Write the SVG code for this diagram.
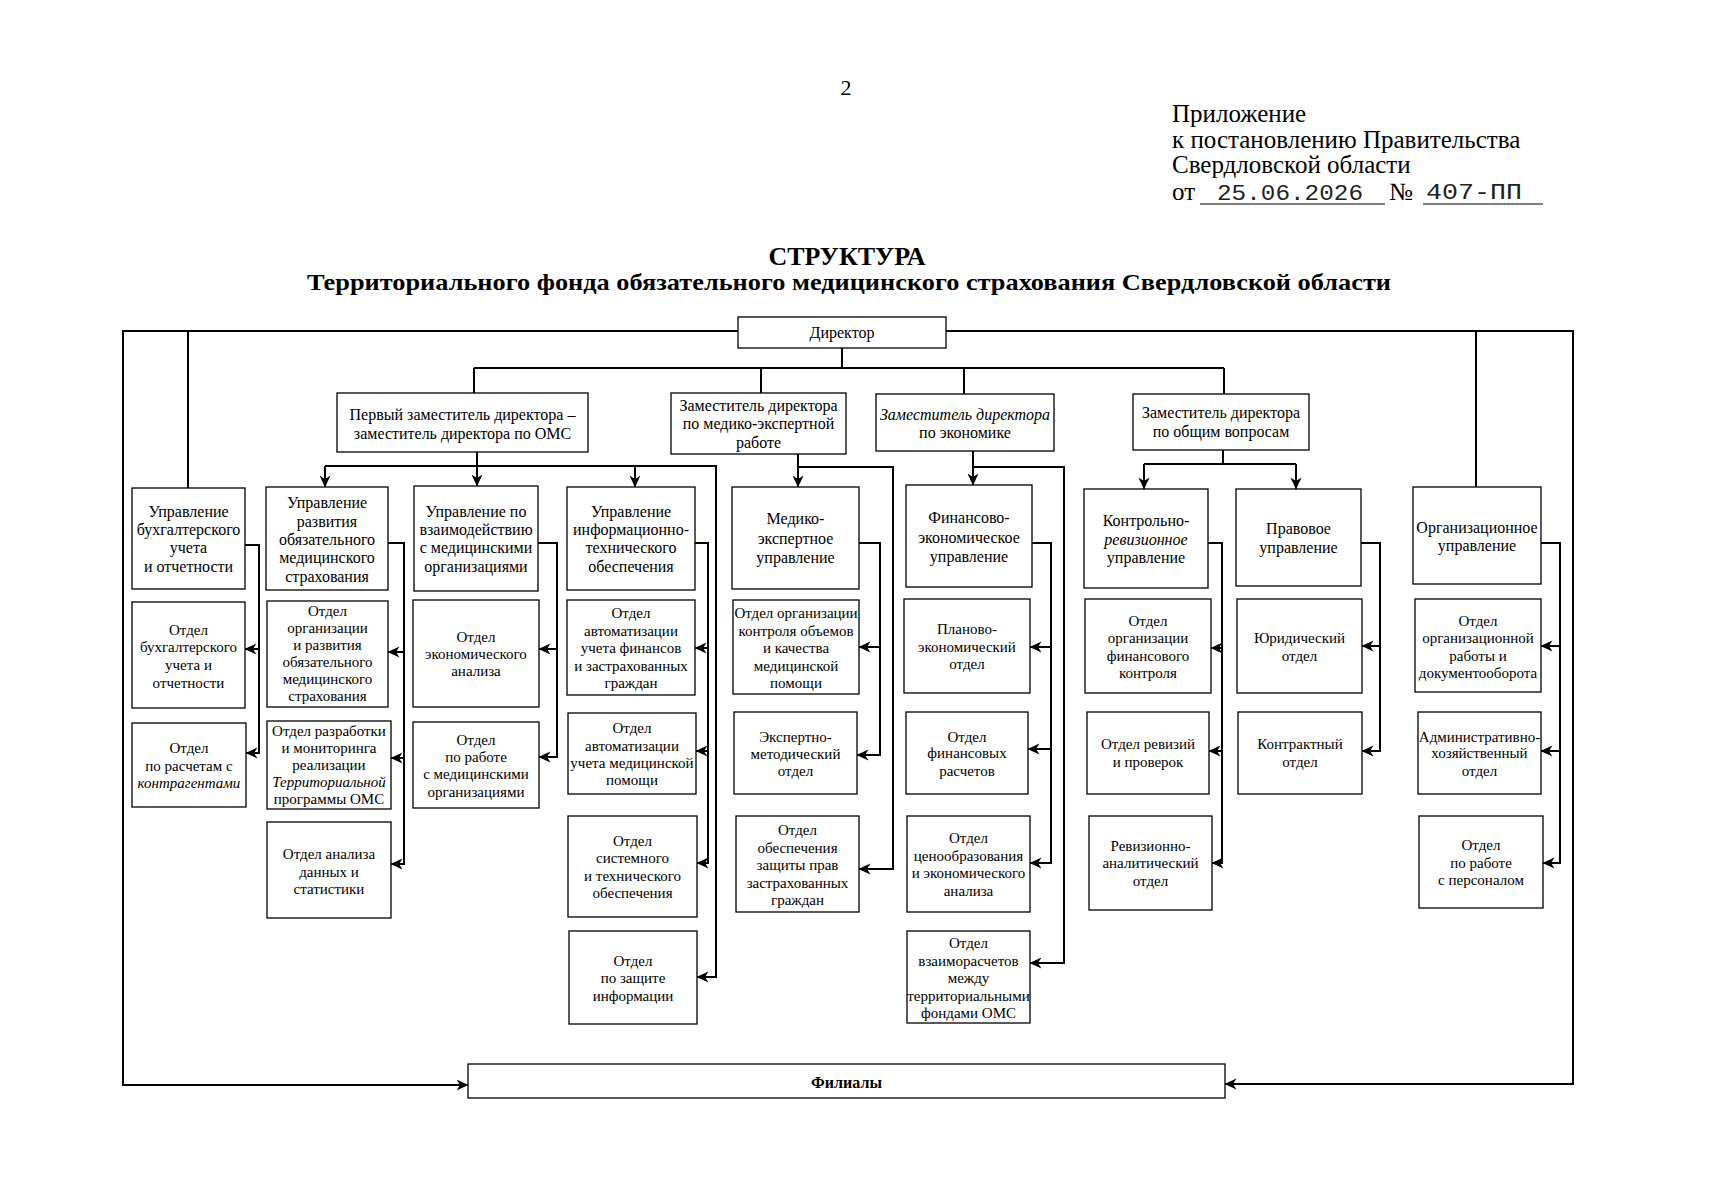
<svg xmlns="http://www.w3.org/2000/svg" width="1711" height="1200" viewBox="0 0 1711 1200">
<style>
.bg{fill:#fff}
.b{fill:#fff;stroke:#000;stroke-width:1.3}
.c{fill:none;stroke:#000;stroke-width:2}
.a{fill:none;stroke:#000;stroke-width:2;marker-end:url(#ah)}
text{font-family:"Liberation Serif","Times New Roman",serif;fill:#000}
.t16{font-size:16px;text-anchor:middle}
.t15{font-size:15px;text-anchor:middle}
.i{font-style:italic}
.hd{font-size:25px}
.mono{font-family:"Liberation Mono","Courier New",monospace;font-size:22px;fill:#222}
.ttl{font-weight:bold;text-anchor:middle}
</style>
<defs>
<marker id="ah" markerUnits="userSpaceOnUse" markerWidth="12" markerHeight="12" viewBox="0 0 12 12" refX="11.5" refY="6" orient="auto">
<path d="M0,0.5 L12,6 L0,11.5 L3.5,6 z" fill="#000"/>
</marker>
</defs>
<rect class="bg" x="0" y="0" width="1711" height="1200"/>

<g id="header">
<text x="846" y="95" style="font-size:22px;text-anchor:middle">2</text>
<text class="hd" x="1172" y="122">Приложение</text>
<text class="hd" x="1172" y="148">к постановлению Правительства</text>
<text class="hd" x="1172" y="173">Свердловской области</text>
<text class="hd" x="1172" y="200">от</text>
<line x1="1200" y1="204" x2="1385" y2="204" stroke="#000" stroke-width="1.2"/>
<text class="mono" x="1217" y="200" textLength="146" lengthAdjust="spacingAndGlyphs">25.06.2026</text>
<text class="hd" x="1389" y="200">№</text>
<line x1="1423" y1="204" x2="1543" y2="204" stroke="#000" stroke-width="1.2"/>
<text class="mono" x="1426" y="199" textLength="96" lengthAdjust="spacingAndGlyphs">407-ПП</text>
<text class="ttl" x="847" y="265" style="font-size:26px">СТРУКТУРА</text>
<text class="ttl" x="849" y="290" style="font-size:24px" textLength="1084" lengthAdjust="spacingAndGlyphs">Территориального фонда обязательного медицинского страхования Свердловской области</text>
</g>

<g id="connectors">
<path class="a" d="M738,331 H123 V1085 H468"/>
<path class="a" d="M946,331 H1573 V1084 H1225"/>
<path class="c" d="M188,331 V488"/>
<path class="c" d="M1476,331 V487"/>
<path class="c" d="M842,348 V368 M474,368 H1224 M474,368 V393 M761,368 V393 M964,368 V394 M1224,368 V394"/>
<path class="c" d="M477,452 V466"/>
<path class="a" d="M325,466 H716 V977 H697"/>
<path class="a" d="M325,466 V487"/>
<path class="a" d="M477,466 V486"/>
<path class="a" d="M635,466 V487"/>
<path class="a" d="M245,545 H259 V753 H246"/>
<path class="a" d="M259,649 H245"/>
<path class="a" d="M388,543 H404 V864 H391"/>
<path class="a" d="M404,652 H388"/>
<path class="a" d="M404,758 H391"/>
<path class="a" d="M538,543 H557 V757 H539"/>
<path class="a" d="M557,649 H539"/>
<path class="a" d="M695,543 H708 V863 H697"/>
<path class="a" d="M708,648 H695"/>
<path class="a" d="M708,751 H696"/>
<path class="a" d="M798,454 V467 H893 V869 H859"/>
<path class="a" d="M798,467 V487"/>
<path class="a" d="M859,543 H880 V755 H857"/>
<path class="a" d="M880,647 H859"/>
<path class="a" d="M973,451 V467 H1064 V963 H1030"/>
<path class="a" d="M973,467 V485"/>
<path class="a" d="M1032,543 H1051 V863 H1030"/>
<path class="a" d="M1051,647 H1030"/>
<path class="a" d="M1051,749 H1028"/>
<path class="c" d="M1223,450 V464 M1144,464 H1296"/>
<path class="a" d="M1144,464 V489"/>
<path class="a" d="M1296,464 V489"/>
<path class="a" d="M1208,543 H1222 V863 H1212"/>
<path class="a" d="M1222,648 H1211"/>
<path class="a" d="M1222,751 H1209"/>
<path class="a" d="M1361,543 H1380 V751 H1362"/>
<path class="a" d="M1380,646 H1362"/>
<path class="a" d="M1541,543 H1560 V863 H1543"/>
<path class="a" d="M1560,646 H1541"/>
<path class="a" d="M1560,751 H1541"/>
</g>

<g id="director"><rect class="b" x="738" y="317" width="208" height="31"/>
<text class="t16" x="842" y="338">Директор</text></g>

<g id="dep1"><rect class="b" x="337" y="393" width="251" height="59"/>
<text class="t16"><tspan x="462.5" y="420">Первый заместитель директора –</tspan><tspan x="462.5" y="439">заместитель директора по ОМС</tspan></text></g>

<g id="dep-med"><rect class="b" x="671" y="393" width="175" height="61"/>
<text class="t16"><tspan x="758.5" y="411">Заместитель директора</tspan><tspan x="758.5" y="429">по медико-экспертной</tspan><tspan x="758.5" y="448">работе</tspan></text></g>

<g id="dep-econ"><rect class="b" x="876" y="394" width="178" height="57"/>
<text class="t16"><tspan class="i" x="965" y="420">Заместитель директора</tspan><tspan x="965" y="438">по экономике</tspan></text></g>

<g id="dep-gen"><rect class="b" x="1133" y="394" width="176" height="56"/>
<text class="t16"><tspan x="1221" y="418">Заместитель директора</tspan><tspan x="1221" y="437">по общим вопросам</tspan></text></g>

<g id="buh"><rect class="b" x="132" y="488" width="113" height="101"/>
<text class="t16"><tspan x="188.5" y="517">Управление</tspan><tspan x="188.5" y="535">бухгалтерского</tspan><tspan x="188.5" y="553">учета</tspan><tspan x="188.5" y="572">и отчетности</tspan></text></g>
<g id="buh-1"><rect class="b" x="132" y="602" width="113" height="106"/>
<text class="t15"><tspan x="188.5" y="635">Отдел</tspan><tspan x="188.5" y="652">бухгалтерского</tspan><tspan x="188.5" y="670">учета и</tspan><tspan x="188.5" y="688">отчетности</tspan></text></g>
<g id="buh-2"><rect class="b" x="132" y="723" width="114" height="84"/>
<text class="t15"><tspan x="189" y="753">Отдел</tspan><tspan x="189" y="771">по расчетам с</tspan><tspan class="i" x="189" y="788">контрагентами</tspan></text></g>

<g id="razv"><rect class="b" x="266" y="487" width="122" height="103"/>
<text class="t16"><tspan x="327" y="508">Управление</tspan><tspan x="327" y="527">развития</tspan><tspan x="327" y="545">обязательного</tspan><tspan x="327" y="563">медицинского</tspan><tspan x="327" y="582">страхования</tspan></text></g>
<g id="razv-1"><rect class="b" x="267" y="601" width="121" height="106"/>
<text class="t15"><tspan x="327.5" y="616">Отдел</tspan><tspan x="327.5" y="633">организации</tspan><tspan x="327.5" y="650">и развития</tspan><tspan x="327.5" y="667">обязательного</tspan><tspan x="327.5" y="684">медицинского</tspan><tspan x="327.5" y="701">страхования</tspan></text></g>
<g id="razv-2"><rect class="b" x="267" y="721" width="124" height="88"/>
<text class="t15"><tspan x="329" y="736">Отдел разработки</tspan><tspan x="329" y="753">и мониторинга</tspan><tspan x="329" y="770">реализации</tspan><tspan class="i" x="329" y="787">Территориальной</tspan><tspan x="329" y="804">программы ОМС</tspan></text></g>
<g id="razv-3"><rect class="b" x="267" y="822" width="124" height="96"/>
<text class="t15"><tspan x="329" y="859">Отдел анализа</tspan><tspan x="329" y="877">данных и</tspan><tspan x="329" y="894">статистики</tspan></text></g>

<g id="vzaim"><rect class="b" x="414" y="486" width="124" height="105"/>
<text class="t16"><tspan x="476" y="517">Управление по</tspan><tspan x="476" y="535">взаимодействию</tspan><tspan x="476" y="553">с медицинскими</tspan><tspan x="476" y="572">организациями</tspan></text></g>
<g id="vzaim-1"><rect class="b" x="413" y="600" width="126" height="107"/>
<text class="t15"><tspan x="476" y="642">Отдел</tspan><tspan x="476" y="659">экономического</tspan><tspan x="476" y="676">анализа</tspan></text></g>
<g id="vzaim-2"><rect class="b" x="413" y="722" width="126" height="86"/>
<text class="t15"><tspan x="476" y="745">Отдел</tspan><tspan x="476" y="762">по работе</tspan><tspan x="476" y="779">с медицинскими</tspan><tspan x="476" y="797">организациями</tspan></text></g>

<g id="it"><rect class="b" x="567" y="487" width="128" height="103"/>
<text class="t16"><tspan x="631" y="517">Управление</tspan><tspan x="631" y="535">информационно-</tspan><tspan x="631" y="553">технического</tspan><tspan x="631" y="572">обеспечения</tspan></text></g>
<g id="it-1"><rect class="b" x="567" y="600" width="128" height="95"/>
<text class="t15"><tspan x="631" y="618">Отдел</tspan><tspan x="631" y="636">автоматизации</tspan><tspan x="631" y="653">учета финансов</tspan><tspan x="631" y="671">и застрахованных</tspan><tspan x="631" y="688">граждан</tspan></text></g>
<g id="it-2"><rect class="b" x="568" y="713" width="128" height="81"/>
<text class="t15"><tspan x="632" y="733">Отдел</tspan><tspan x="632" y="751">автоматизации</tspan><tspan x="632" y="768">учета медицинской</tspan><tspan x="632" y="785">помощи</tspan></text></g>
<g id="it-3"><rect class="b" x="568" y="816" width="129" height="101"/>
<text class="t15"><tspan x="632.5" y="846">Отдел</tspan><tspan x="632.5" y="863">системного</tspan><tspan x="632.5" y="881">и технического</tspan><tspan x="632.5" y="898">обеспечения</tspan></text></g>
<g id="it-4"><rect class="b" x="569" y="931" width="128" height="93"/>
<text class="t15"><tspan x="633" y="966">Отдел</tspan><tspan x="633" y="983">по защите</tspan><tspan x="633" y="1001">информации</tspan></text></g>

<g id="mex"><rect class="b" x="732" y="487" width="127" height="102"/>
<text class="t16"><tspan x="795.5" y="524">Медико-</tspan><tspan x="795.5" y="544">экспертное</tspan><tspan x="795.5" y="563">управление</tspan></text></g>
<g id="mex-1"><rect class="b" x="733" y="600" width="126" height="94"/>
<text class="t15"><tspan x="796" y="618">Отдел организации</tspan><tspan x="796" y="636">контроля объемов</tspan><tspan x="796" y="653">и качества</tspan><tspan x="796" y="671">медицинской</tspan><tspan x="796" y="688">помощи</tspan></text></g>
<g id="mex-2"><rect class="b" x="734" y="712" width="123" height="82"/>
<text class="t15"><tspan x="795.5" y="742">Экспертно-</tspan><tspan x="795.5" y="759">методический</tspan><tspan x="795.5" y="776">отдел</tspan></text></g>
<g id="mex-3"><rect class="b" x="736" y="816" width="123" height="96"/>
<text class="t15"><tspan x="797.5" y="835">Отдел</tspan><tspan x="797.5" y="853">обеспечения</tspan><tspan x="797.5" y="870">защиты прав</tspan><tspan x="797.5" y="888">застрахованных</tspan><tspan x="797.5" y="905">граждан</tspan></text></g>

<g id="feu"><rect class="b" x="906" y="485" width="126" height="102"/>
<text class="t16"><tspan x="969" y="523">Финансово-</tspan><tspan x="969" y="543">экономическое</tspan><tspan x="969" y="562">управление</tspan></text></g>
<g id="feu-1"><rect class="b" x="904" y="599" width="126" height="94"/>
<text class="t15"><tspan x="967" y="634">Планово-</tspan><tspan x="967" y="652">экономический</tspan><tspan x="967" y="669">отдел</tspan></text></g>
<g id="feu-2"><rect class="b" x="906" y="712" width="122" height="82"/>
<text class="t15"><tspan x="967" y="742">Отдел</tspan><tspan x="967" y="758">финансовых</tspan><tspan x="967" y="776">расчетов</tspan></text></g>
<g id="feu-3"><rect class="b" x="907" y="816" width="123" height="96"/>
<text class="t15"><tspan x="968.5" y="843">Отдел</tspan><tspan x="968.5" y="861">ценообразования</tspan><tspan x="968.5" y="878">и экономического</tspan><tspan x="968.5" y="896">анализа</tspan></text></g>
<g id="feu-4"><rect class="b" x="907" y="931" width="123" height="92"/>
<text class="t15"><tspan x="968.5" y="948">Отдел</tspan><tspan x="968.5" y="966">взаиморасчетов</tspan><tspan x="968.5" y="983">между</tspan><tspan x="968.5" y="1001">территориальными</tspan><tspan x="968.5" y="1018">фондами ОМС</tspan></text></g>

<g id="kru"><rect class="b" x="1084" y="489" width="124" height="99"/>
<text class="t16"><tspan x="1146" y="526">Контрольно-</tspan><tspan class="i" x="1146" y="545">ревизионное</tspan><tspan x="1146" y="563">управление</tspan></text></g>
<g id="kru-1"><rect class="b" x="1085" y="599" width="126" height="94"/>
<text class="t15"><tspan x="1148" y="626">Отдел</tspan><tspan x="1148" y="643">организации</tspan><tspan x="1148" y="661">финансового</tspan><tspan x="1148" y="678">контроля</tspan></text></g>
<g id="kru-2"><rect class="b" x="1087" y="712" width="122" height="82"/>
<text class="t15"><tspan x="1148" y="749">Отдел ревизий</tspan><tspan x="1148" y="767">и проверок</tspan></text></g>
<g id="kru-3"><rect class="b" x="1089" y="816" width="123" height="94"/>
<text class="t15"><tspan x="1150.5" y="851">Ревизионно-</tspan><tspan x="1150.5" y="868">аналитический</tspan><tspan x="1150.5" y="886">отдел</tspan></text></g>

<g id="pravo"><rect class="b" x="1236" y="489" width="125" height="97"/>
<text class="t16"><tspan x="1298.5" y="534">Правовое</tspan><tspan x="1298.5" y="553">управление</tspan></text></g>
<g id="pravo-1"><rect class="b" x="1237" y="599" width="125" height="94"/>
<text class="t15"><tspan x="1299.5" y="643">Юридический</tspan><tspan x="1299.5" y="661">отдел</tspan></text></g>
<g id="pravo-2"><rect class="b" x="1238" y="712" width="124" height="82"/>
<text class="t15"><tspan x="1300" y="749">Контрактный</tspan><tspan x="1300" y="767">отдел</tspan></text></g>

<g id="org"><rect class="b" x="1413" y="487" width="128" height="97"/>
<text class="t16"><tspan x="1477" y="533">Организационное</tspan><tspan x="1477" y="551">управление</tspan></text></g>
<g id="org-1"><rect class="b" x="1415" y="599" width="126" height="93"/>
<text class="t15"><tspan x="1478" y="626">Отдел</tspan><tspan x="1478" y="643">организационной</tspan><tspan x="1478" y="661">работы и</tspan><tspan x="1478" y="678">документооборота</tspan></text></g>
<g id="org-2"><rect class="b" x="1418" y="712" width="123" height="82"/>
<text class="t15"><tspan x="1479.5" y="742">Административно-</tspan><tspan x="1479.5" y="758">хозяйственный</tspan><tspan x="1479.5" y="776">отдел</tspan></text></g>
<g id="org-3"><rect class="b" x="1419" y="816" width="124" height="92"/>
<text class="t15"><tspan x="1481" y="850">Отдел</tspan><tspan x="1481" y="868">по работе</tspan><tspan x="1481" y="885">с персоналом</tspan></text></g>

<g id="filialy"><rect class="b" x="468" y="1064" width="757" height="34"/>
<text class="t16" x="846.5" y="1088" style="font-weight:bold">Филиалы</text></g>
</svg>
